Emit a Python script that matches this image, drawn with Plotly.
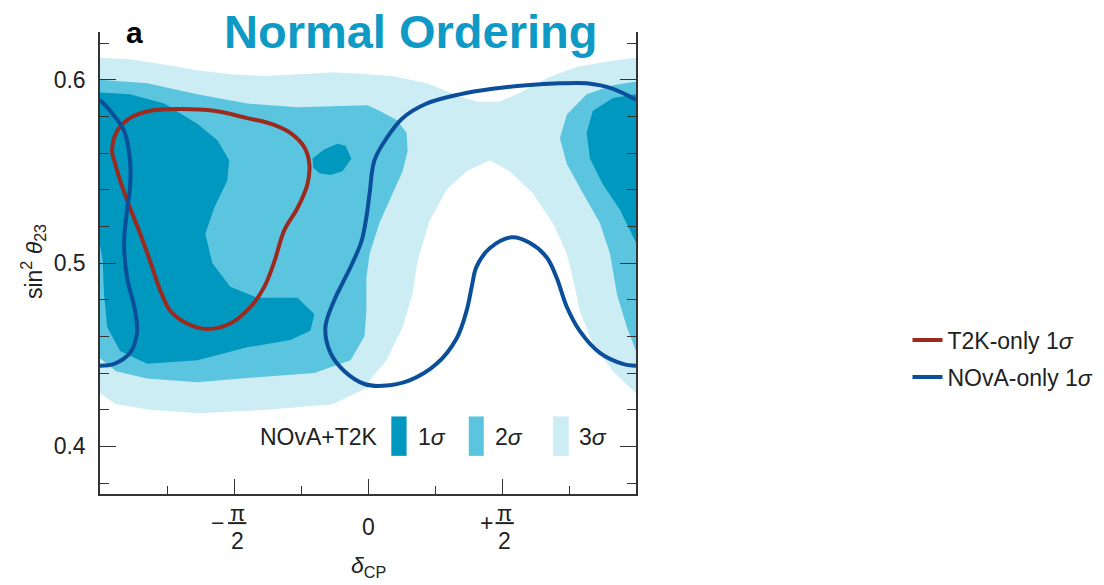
import plotly.graph_objects as go

# x in units of pi (delta_CP / pi), y = sin^2(theta_23)
sig3_x = [-1.0, -0.88, -0.75, -0.63, -0.51, -0.39, -0.26, -0.13, 0.0, 0.09, 0.22, 0.34, 0.41, 0.49, 0.57, 0.67, 0.78, 0.90, 1.0,
          1.0, 0.914, 0.839, 0.790, 0.764, 0.742, 0.689, 0.615, 0.529, 0.454, 0.368, 0.293, 0.230, 0.185, 0.166, 0.129, 0.069, 0.006,
          -0.002, -0.133, -0.379, -0.630, -0.816, -0.940, -1.0]
sig3_y = [0.612, 0.611, 0.608, 0.605, 0.603, 0.602, 0.603, 0.604, 0.603, 0.602, 0.598, 0.591, 0.588, 0.588, 0.593, 0.601, 0.607, 0.610, 0.612,
          0.429, 0.441, 0.456, 0.474, 0.492, 0.505, 0.522, 0.538, 0.550, 0.556, 0.550, 0.540, 0.523, 0.501, 0.483, 0.465, 0.447, 0.436,
          0.432, 0.423, 0.420, 0.418, 0.420, 0.423, 0.429]

sig2L_x = [-1.0, -0.824, -0.637, -0.450, -0.263, -0.002, 0.043, 0.107, 0.144, 0.148, 0.129, 0.092, 0.043, 0.006, -0.006, -0.006,
           -0.013, -0.065, -0.200, -0.387, -0.637, -0.824, -0.940, -1.0]
sig2L_y = [0.600, 0.598, 0.592, 0.587, 0.585, 0.586, 0.583, 0.578, 0.571, 0.561, 0.550, 0.538, 0.522, 0.505, 0.492, 0.474,
           0.460, 0.447, 0.440, 0.438, 0.435, 0.437, 0.441, 0.448]

sig2R_x = [1.0, 0.914, 0.816, 0.742, 0.716, 0.742, 0.802, 0.865, 0.903, 0.929, 0.966, 1.0]
sig2R_y = [0.599, 0.597, 0.592, 0.581, 0.568, 0.554, 0.538, 0.522, 0.505, 0.483, 0.465, 0.452]

sig1L_x = [-1.0, -0.888, -0.760, -0.637, -0.562, -0.518, -0.525, -0.574, -0.607, -0.581, -0.514, -0.413, -0.263, -0.200,
           -0.215, -0.290, -0.450, -0.637, -0.824, -0.925, -0.973, -0.985, -0.99, -1.0]
sig1L_y = [0.593, 0.592, 0.587, 0.576, 0.567, 0.556, 0.545, 0.530, 0.516, 0.500, 0.487, 0.481, 0.481, 0.472,
           0.463, 0.458, 0.454, 0.447, 0.445, 0.452, 0.465, 0.483, 0.501, 0.510]

sig1I_x = [-0.207, -0.163, -0.114, -0.084, -0.062, -0.095, -0.140, -0.181, -0.204]
sig1I_y = [0.557, 0.562, 0.565, 0.564, 0.557, 0.550, 0.548, 0.549, 0.552]

sig1R_x = [1.0, 0.914, 0.839, 0.816, 0.828, 0.876, 0.940, 0.977, 1.0]
sig1R_y = [0.592, 0.590, 0.583, 0.571, 0.557, 0.543, 0.529, 0.518, 0.511]

t2k_x = [-0.947, -0.955, -0.936, -0.888, -0.813, -0.701, -0.574, -0.450, -0.364, -0.290, -0.237, -0.219, -0.226, -0.263,
         -0.312, -0.349, -0.387, -0.439, -0.514, -0.600, -0.675, -0.738, -0.775, -0.813, -0.850, -0.888, -0.925, -0.947]
t2k_y = [0.556, 0.561, 0.572, 0.579, 0.583, 0.584, 0.583, 0.579, 0.576, 0.571, 0.563, 0.554, 0.543, 0.530,
         0.518, 0.501, 0.487, 0.476, 0.467, 0.464, 0.467, 0.474, 0.485, 0.501, 0.516, 0.530, 0.545, 0.556]

novaL_x = [-1.0, -0.962, -0.910, -0.888, -0.888, -0.899, -0.910, -0.899, -0.869, -0.862, -0.888, -0.947, -1.0]
novaL_y = [0.589, 0.583, 0.572, 0.556, 0.541, 0.529, 0.511, 0.492, 0.474, 0.462, 0.451, 0.445, 0.444]

novaR_x = [1.0, 0.914, 0.816, 0.716, 0.592, 0.465, 0.342, 0.219, 0.129, 0.069, 0.024, 0.006, -0.006, -0.024, -0.058,
           -0.095, -0.125, -0.159, -0.140, -0.088, -0.013, 0.054, 0.155, 0.256, 0.331, 0.368, 0.387, 0.405, 0.454, 0.536,
           0.603, 0.667, 0.704, 0.742, 0.790, 0.865, 0.951, 1.0]
novaR_y = [0.589, 0.595, 0.598, 0.598, 0.597, 0.595, 0.592, 0.587, 0.579, 0.568, 0.556, 0.538, 0.525, 0.512, 0.500,
           0.489, 0.480, 0.465, 0.451, 0.441, 0.434, 0.433, 0.436, 0.445, 0.459, 0.474, 0.487, 0.498, 0.508, 0.514,
           0.511, 0.503, 0.492, 0.476, 0.463, 0.451, 0.445, 0.444]

ytick_vals = [0.4, 0.5, 0.6]
ytick_text = ["0.4", "0.5", "0.6"]

C1 = "#0098BF"
C2 = "#5BC5E0"
C3 = "#CDEDF5"
RED = "#9C2A1E"
BLUE = "#0B4E9A"
FONT = "Liberation Sans, Arial, sans-serif"
FS = 23

fig = go.Figure()

def area(x, y, c):
    fig.add_trace(go.Scatter(x=x, y=y, mode="lines", fill="toself", fillcolor=c,
                             line=dict(width=0, color=c), showlegend=False, hoverinfo="skip"))

area(sig3_x, sig3_y, C3)
area(sig2L_x, sig2L_y, C2)
area(sig2R_x, sig2R_y, C2)
area(sig1L_x, sig1L_y, C1)
area(sig1I_x, sig1I_y, C1)
area(sig1R_x, sig1R_y, C1)

fig.add_trace(go.Scatter(x=t2k_x, y=t2k_y, mode="lines", line=dict(color=RED, width=4, shape="spline"),
                         name="T2K-only 1<i>σ</i>", legendgroup="t2k"))
fig.add_trace(go.Scatter(x=novaR_x, y=novaR_y, mode="lines", line=dict(color=BLUE, width=4, shape="spline"),
                         name="NOvA-only 1<i>σ</i>", legendgroup="nova"))
fig.add_trace(go.Scatter(x=novaL_x, y=novaL_y, mode="lines", line=dict(color=BLUE, width=4, shape="spline"),
                         showlegend=False, legendgroup="nova"))

annots = []
shapes = []

# Title and panel letter
annots.append(dict(text="<b>Normal Ordering</b>", x=0.58, y=1.002, xref="paper", yref="paper",
                   xanchor="center", yanchor="middle", showarrow=False,
                   font=dict(size=47, color="#0E9AC4", family=FONT)))
annots.append(dict(text="<b>a</b>", x=0.065, y=1.0, xref="paper", yref="paper",
                   xanchor="center", yanchor="middle", showarrow=False,
                   font=dict(size=30, color="black", family=FONT)))

# Internal legend for combined contours
annots.append(dict(text="NOvA+T2K", x=0.043, y=0.405, xref="x", yref="y", xanchor="right", yanchor="middle",
                   showarrow=False, font=dict(size=FS, color="#222", family=FONT)))
for (x0, x1, lx, c, lab) in [(0.087, 0.144, 0.180, C1, "1<i>σ</i>"),
                              (0.376, 0.432, 0.468, C2, "2<i>σ</i>"),
                              (0.690, 0.749, 0.778, C3, "3<i>σ</i>")]:
    shapes.append(dict(type="rect", xref="x", yref="y", x0=x0, x1=x1, y0=0.3948, y1=0.4163,
                       fillcolor=c, line=dict(width=0)))
    annots.append(dict(text=lab, x=lx, y=0.405, xref="x", yref="y", xanchor="left", yanchor="middle",
                       showarrow=False, font=dict(size=FS, color="#222", family=FONT)))

# x tick labels as fractions
def frac(xc, sign, sx):
    annots.append(dict(text=sign, x=sx, y=-0.063, xref="x", yref="paper", xanchor="center", yanchor="middle",
                       showarrow=False, font=dict(size=FS, color="#222", family=FONT)))
    annots.append(dict(text="π", x=xc, y=-0.042, xref="x", yref="paper", xanchor="center", yanchor="middle",
                       showarrow=False, font=dict(size=22, color="#222", family=FONT)))
    annots.append(dict(text="2", x=xc, y=-0.102, xref="x", yref="paper", xanchor="center", yanchor="middle",
                       showarrow=False, font=dict(size=FS, color="#222", family=FONT)))
    shapes.append(dict(type="line", xref="x", yref="paper", x0=xc - 0.034, x1=xc + 0.034, y0=-0.063, y1=-0.063,
                       line=dict(color="#222", width=2)))

frac(-0.488, "−", -0.562)
frac(0.510, "+", 0.443)
annots.append(dict(text="0", x=0.0, y=-0.071, xref="x", yref="paper", xanchor="center", yanchor="middle",
                   showarrow=False, font=dict(size=FS, color="#222", family=FONT)))

# axis titles
annots.append(dict(text="sin<sup>2</sup> <i>θ</i><sub>23</sub>", x=-0.125, y=0.502, xref="paper", yref="paper",
                   xanchor="center", yanchor="middle", textangle=-90, showarrow=False,
                   font=dict(size=FS, color="#222", family=FONT)))
annots.append(dict(text="<i>δ</i><sub>CP</sub>", x=0.0, y=-0.158, xref="x", yref="paper",
                   xanchor="center", yanchor="middle", showarrow=False,
                   font=dict(size=FS, color="#222", family=FONT)))

fig.update_layout(
    width=1104, height=585,
    margin=dict(l=100, r=468, t=32, b=91, autoexpand=False),
    plot_bgcolor="white", paper_bgcolor="white",
    font=dict(family=FONT, size=FS, color="#222"),
    annotations=annots, shapes=shapes,
    legend=dict(x=0.822, y=0.387, xref="container", yref="container", xanchor="left", yanchor="middle",
                font=dict(size=FS, color="#222", family=FONT),
                bgcolor="rgba(0,0,0,0)", tracegroupgap=4),
    xaxis=dict(range=[-1, 1], tickvals=[-0.5, 0, 0.5], showticklabels=False, ticks="inside", ticklen=15,
               tickwidth=1.3, tickcolor="#333", showline=True, linecolor="#333", linewidth=1.5, mirror=False,
               showgrid=False, zeroline=False,
               minor=dict(tickvals=[-0.75, -0.25, 0.25, 0.75], ticks="inside", ticklen=8, tickwidth=1.3,
                          tickcolor="#333", showgrid=False)),
    yaxis=dict(range=[0.374, 0.626], tickvals=ytick_vals, ticktext=ytick_text, ticks="inside", ticklen=16,
               tickwidth=1.3, tickcolor="#333", showline=True, linecolor="#333", linewidth=1.5, mirror="ticks",
               showgrid=False, zeroline=False, ticklabelstandoff=8,
               tickfont=dict(size=FS, color="#222", family=FONT),
               minor=dict(dtick=0.02, tick0=0.0, ticks="inside", ticklen=9, tickwidth=1.3, tickcolor="#333",
                          showgrid=False)),
)

fig.write_html("out.html")
